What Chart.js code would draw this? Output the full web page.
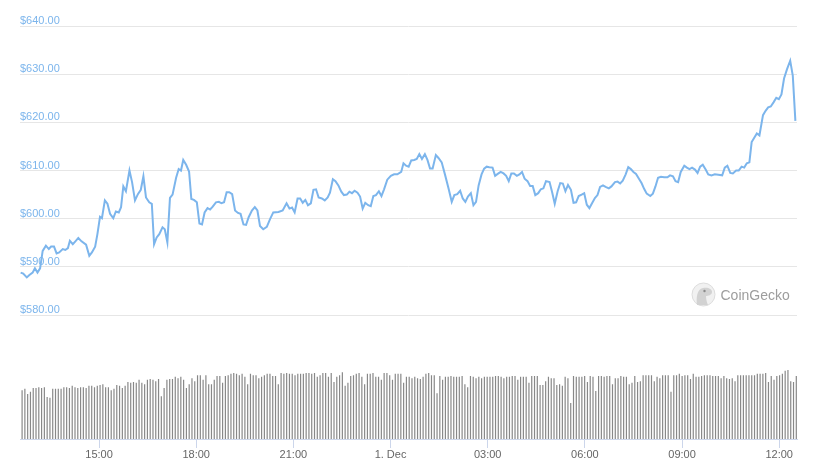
<!DOCTYPE html>
<html>
<head>
<meta charset="utf-8">
<script src="https://cdn.jsdelivr.net/npm/chart.js@4.4.1/dist/chart.umd.min.js"></script>
<style>
  html, body { margin: 0; padding: 0; background: #fff; }
  #chart { display: block; }
</style>
</head>
<body>
<canvas id="chart" width="823" height="469"></canvas>
<script>
// time in hours from 30 Nov 00:00 (24 = 1 Dec 00:00)
const priceTimes = [
  12.58, 12.66, 12.77, 12.85, 12.95, 13.02, 13.10, 13.18, 13.26, 13.36,
  13.45, 13.52, 13.61, 13.69, 13.77, 13.88, 13.96, 14.04, 14.10, 14.19,
  14.27, 14.36, 14.46, 14.60, 14.70, 14.78, 14.88, 14.95, 15.03, 15.09,
  15.18, 15.26, 15.34, 15.44, 15.52, 15.61, 15.68, 15.75, 15.83, 15.94,
  16.02, 16.11, 16.20, 16.29, 16.37, 16.45, 16.55, 16.63, 16.70, 16.78,
  16.86, 16.96, 17.03, 17.11, 17.19, 17.27, 17.38, 17.46, 17.53, 17.60,
  17.69, 17.78, 17.85, 17.93, 18.02, 18.10, 18.18, 18.26, 18.35, 18.43,
  18.51, 18.61, 18.70, 18.78, 18.86, 18.94, 19.02, 19.11, 19.20, 19.29,
  19.37, 19.46, 19.54, 19.62, 19.72, 19.81, 19.89, 19.97, 20.07, 20.18,
  20.28, 20.38, 20.54, 20.67, 20.79, 20.88, 20.96, 21.04, 21.13, 21.21,
  21.29, 21.37, 21.45, 21.54, 21.62, 21.70, 21.78, 21.88, 21.97, 22.06,
  22.13, 22.22, 22.30, 22.39, 22.48, 22.56, 22.65, 22.73, 22.81, 22.89,
  22.98, 23.06, 23.14, 23.22, 23.31, 23.39, 23.47, 23.55, 23.64, 23.72,
  23.80, 23.90, 24.01, 24.11, 24.21, 24.33, 24.40, 24.48, 24.56, 24.64,
  24.73, 24.81, 24.89, 24.97, 25.06, 25.14, 25.22, 25.30, 25.40, 25.48,
  25.58, 25.68, 25.79, 25.89, 25.97, 26.06, 26.15, 26.23, 26.31, 26.39,
  26.48, 26.56, 26.64, 26.72, 26.81, 26.89, 26.97, 27.05, 27.15, 27.23,
  27.31, 27.40, 27.49, 27.57, 27.65, 27.73, 27.81, 27.90, 27.98, 28.06,
  28.14, 28.23, 28.31, 28.39, 28.47, 28.56, 28.64, 28.72, 28.80,
  28.91, 28.99, 29.07, 29.16, 29.24, 29.32, 29.40, 29.48, 29.57, 29.65,
  29.73, 29.81, 29.90, 29.98, 30.06, 30.14, 30.23, 30.31, 30.39, 30.47,
  30.56, 30.64, 30.74, 30.82, 30.93, 31.01, 31.09, 31.17, 31.26, 31.34,
  31.42, 31.50, 31.58, 31.67, 31.75, 31.83, 31.91, 32.02, 32.10, 32.18,
  32.26, 32.35, 32.45, 32.55, 32.63, 32.72, 32.80, 32.88, 32.96, 33.07,
  33.15, 33.23, 33.31, 33.40, 33.48, 33.56, 33.64, 33.73, 33.81, 33.91,
  34.01, 34.12, 34.24, 34.32, 34.40, 34.49, 34.57, 34.67, 34.75, 34.84,
  34.92, 35.00, 35.08, 35.15, 35.23, 35.31, 35.39, 35.50, 35.58, 35.66,
  35.74, 35.83, 35.91, 35.99, 36.07, 36.15, 36.24, 36.34, 36.42, 36.50
];

const prices = [
  588.8, 588.6, 587.8, 588.3, 588.8, 589.7, 588.8, 589.7, 593.3, 594.4,
  593.7, 594.2, 594.2, 592.8, 593.0, 593.7, 593.5, 593.9, 595.4, 594.7,
  595.3, 596.0, 595.3, 594.6, 592.3, 593.0, 594.2, 596.8, 600.4, 600.1,
  603.8, 603.1, 601.0, 600.1, 601.5, 601.3, 602.4, 606.7, 605.7, 610.0,
  607.6, 603.8, 605.1, 606.0, 608.8, 604.4, 603.4, 603.1, 594.7, 596.1,
  596.8, 598.2, 597.8, 595.1, 604.3, 605.0, 608.5, 610.3, 610.0, 612.2,
  611.2, 609.8, 604.1, 603.9, 603.4, 599.0, 598.8, 601.3, 602.2, 601.9,
  602.5, 603.4, 603.5, 603.2, 603.4, 605.5, 605.5, 605.1, 601.7, 601.2,
  601.0, 598.8, 598.7, 600.3, 601.7, 602.4, 601.7, 598.5, 597.8, 598.3,
  599.9, 601.3, 601.4, 601.7, 603.2, 602.1, 602.3, 601.3, 604.2, 604.2,
  603.3, 603.9, 602.8, 603.2, 606.0, 606.1, 604.4, 604.2, 603.8, 604.4,
  605.4, 608.2, 607.8, 606.9, 605.6, 604.9, 605.0, 605.6, 605.3, 605.8,
  605.4, 604.6, 602.1, 603.3, 602.8, 602.6, 604.7, 604.9, 605.7, 604.7,
  606.1, 608.1, 608.9, 609.2, 609.2, 609.7, 611.5, 611.0, 610.8, 612.1,
  612.2, 612.4, 613.4, 612.4, 613.4, 612.2, 610.4, 610.4, 613.2, 612.6,
  611.7, 609.2, 606.3, 603.5, 604.9, 605.1, 605.8, 604.2, 603.5, 604.6,
  605.3, 602.8, 603.5, 606.9, 609.2, 610.4, 610.8, 610.7, 610.6, 608.9,
  609.3, 609.7, 609.4, 608.9, 607.8, 609.4, 609.4, 608.9, 609.2, 609.7,
  608.3, 607.8, 606.8, 606.8, 604.9, 605.3, 606.1, 606.3, 607.8,
  607.6, 605.5, 603.1, 605.7, 607.4, 607.3, 605.7, 607.0, 606.0, 603.3,
  603.4, 604.7, 605.0, 605.3, 602.9, 602.2, 603.3, 604.3, 604.9, 606.6,
  606.9, 606.6, 606.3, 606.7, 607.6, 607.7, 607.3, 607.9, 609.2, 610.7,
  610.3, 609.7, 609.3, 608.3, 607.4, 606.2, 605.2, 604.7, 605.2, 606.7,
  608.5, 608.7, 608.6, 608.6, 609.0, 608.8, 607.8, 607.6, 609.7, 611.0,
  610.6, 610.3, 610.6, 610.2, 609.5, 610.8, 611.2, 610.2, 609.2, 609.0,
  609.2, 609.1, 609.0, 610.6, 611.0, 609.5, 609.4, 610.0, 610.0, 610.8,
  610.6, 611.5, 611.7, 615.9, 616.8, 617.7, 617.3, 621.5, 622.4, 623.1,
  623.3, 624.2, 625.1, 624.8, 625.8, 629.1, 631.0, 632.8, 629.7, 620.3
];

// 5-minute volume, millions USD
const volumes = [
  65, 67, 60, 63, 68, 68, 69, 68, 69, 56, 55, 67, 67, 67, 67, 69, 69, 68, 71, 69,
  68, 69, 69, 68, 71, 71, 69, 71, 72, 73, 69, 69, 65, 67, 72, 71, 68, 71, 76, 75,
  76, 75, 79, 75, 73, 79, 80, 79, 77, 80, 57, 68, 79, 80, 80, 83, 81, 83,
  79, 68, 73, 81, 77, 85, 85, 79, 85, 73, 73, 79, 84, 84, 75, 84, 85, 87, 88, 87,
  85, 87, 83, 73, 87, 85, 85, 81, 83, 85, 87, 87, 84, 84, 73, 88, 87, 88, 87, 87,
  85, 87, 87, 87, 88, 88, 87, 88, 83, 85, 88, 88, 83, 88, 76, 83, 85,
  89, 71, 75, 84, 85, 87, 88, 83, 73, 87, 87, 88, 83, 83, 79, 88, 88, 85, 79, 87,
  87, 87, 75, 83, 83, 81, 83, 81, 80, 83, 87, 88, 85, 85, 61, 84, 79, 83, 83, 84,
  83, 83, 83, 84, 73, 69, 84, 83, 81, 83, 81, 83, 83, 83, 83, 84, 84,
  83, 81, 83, 83, 84, 84, 79, 83, 83, 83, 75, 84, 84, 84, 72, 72, 77, 83, 81, 81,
  72, 73, 71, 83, 81, 48, 84, 83, 83, 83, 84, 76, 84, 83, 64, 84, 84, 83, 84, 84,
  73, 81, 81, 84, 83, 83, 73, 75, 84, 76, 77, 85, 85, 85, 85,
  77, 83, 81, 85, 85, 85, 63, 85, 85, 87, 84, 85, 85, 80, 87, 83, 83, 84, 85, 85,
  85, 84, 84, 84, 81, 84, 81, 80, 81, 77, 85, 85, 85, 85, 85, 85, 85, 87, 87, 87,
  88, 76, 84, 79, 84, 85, 87, 91, 92, 77, 76, 84
];

const timeTicks = [15, 18, 21, 24, 27, 30, 33, 36];
const timeTickLabels = [`15:00`, `18:00`, `21:00`, `1. Dec`, `03:00`, `06:00`, `09:00`, `12:00`];
const priceTicks = [580, 590, 600, 610, 620, 630, 640];

const FONT = `"Liberation Sans", Arial, sans-serif`;

const watermark = {
  id: `watermark`,
  afterDraw(chart) {
    const c = chart.ctx;
    c.save();
    // gecko badge
    c.beginPath();
    c.arc(703.5, 294.5, 11.5, 0, Math.PI * 2);
    c.fillStyle = `#f1f1f1`;
    c.fill();
    c.lineWidth = 1;
    c.strokeStyle = `#dcdcdc`;
    c.stroke();
    c.beginPath();
    c.moveTo(697, 305);
    c.bezierCurveTo(696, 298, 697, 289, 703, 288);
    c.bezierCurveTo(708, 287, 712, 289, 712, 292);
    c.bezierCurveTo(712, 295, 708, 296, 706, 296);
    c.bezierCurveTo(706, 299, 707, 303, 708, 305);
    c.closePath();
    c.fillStyle = `#d2d2d2`;
    c.fill();
    c.beginPath();
    c.arc(704.5, 291, 1.2, 0, Math.PI * 2);
    c.fillStyle = `#8a8a8a`;
    c.fill();
    // name
    c.font = `14px ${FONT}`;
    c.fillStyle = `#9d9d9d`;
    c.textBaseline = `alphabetic`;
    c.textAlign = `left`;
    c.fillText(`CoinGecko`, 720.5, 300);
    c.restore();
  }
};

new Chart(document.getElementById(`chart`), {
  data: {
    datasets: [
      {
        type: `line`,
        data: priceTimes.map((t, i) => ({x: t, y: prices[i]})),
        xAxisID: `x`,
        yAxisID: `y`,
        borderColor: `#7cb5ec`,
        borderWidth: 2,
        pointRadius: 0,
        tension: 0,
        fill: false,
        order: 1
      },
      {
        type: `bar`,
        data: volumes,
        xAxisID: `xv`,
        yAxisID: `yv`,
        backgroundColor: `#888888`,
        barPercentage: 0.86,
        categoryPercentage: 1,
        order: 2
      }
    ]
  },
  options: {
    responsive: false,
    animation: false,
    layout: {padding: {left: 20, right: 26, top: 20, bottom: 0}},
    plugins: {legend: {display: false}, tooltip: {enabled: false}},
    scales: {
      x: {
        type: `linear`,
        position: `bottom`,
        min: 12.56,
        max: 36.55,
        afterBuildTicks: (s) => {
          s.ticks = timeTicks.map((v) => ({value: v}));
        },
        afterFit: (s) => {
          s.height = 30;
        },
        ticks: {
          autoSkip: false,
          maxRotation: 0,
          padding: 0,
          color: `#666666`,
          font: {family: FONT, size: 11},
          callback: (v) => timeTickLabels[timeTicks.indexOf(v)]
        },
        grid: {drawOnChartArea: false, tickLength: 9, color: `#ccd6eb`},
        border: {color: `#ccd6eb`}
      },
      xv: {
        type: `category`,
        labels: volumes.map((v, i) => i),
        display: false,
        offset: true
      },
      y: {
        type: `linear`,
        position: `left`,
        min: 554.26,
        max: 641.25,
        afterBuildTicks: (s) => {
          s.ticks = priceTicks.map((v) => ({value: v}));
        },
        afterFit: (s) => {
          s.width = 0;
        },
        ticks: {
          mirror: true,
          padding: 0,
          labelOffset: -5,
          color: `#7cb5ec`,
          font: {family: FONT, size: 11},
          callback: (v) => `$` + v.toFixed(2)
        },
        grid: {color: `#e6e6e6`, drawTicks: false},
        border: {display: false}
      },
      yv: {
        type: `linear`,
        display: false,
        min: 0,
        max: 558.7
      }
    }
  },
  plugins: [watermark]
});
</script>
</body>
</html>
